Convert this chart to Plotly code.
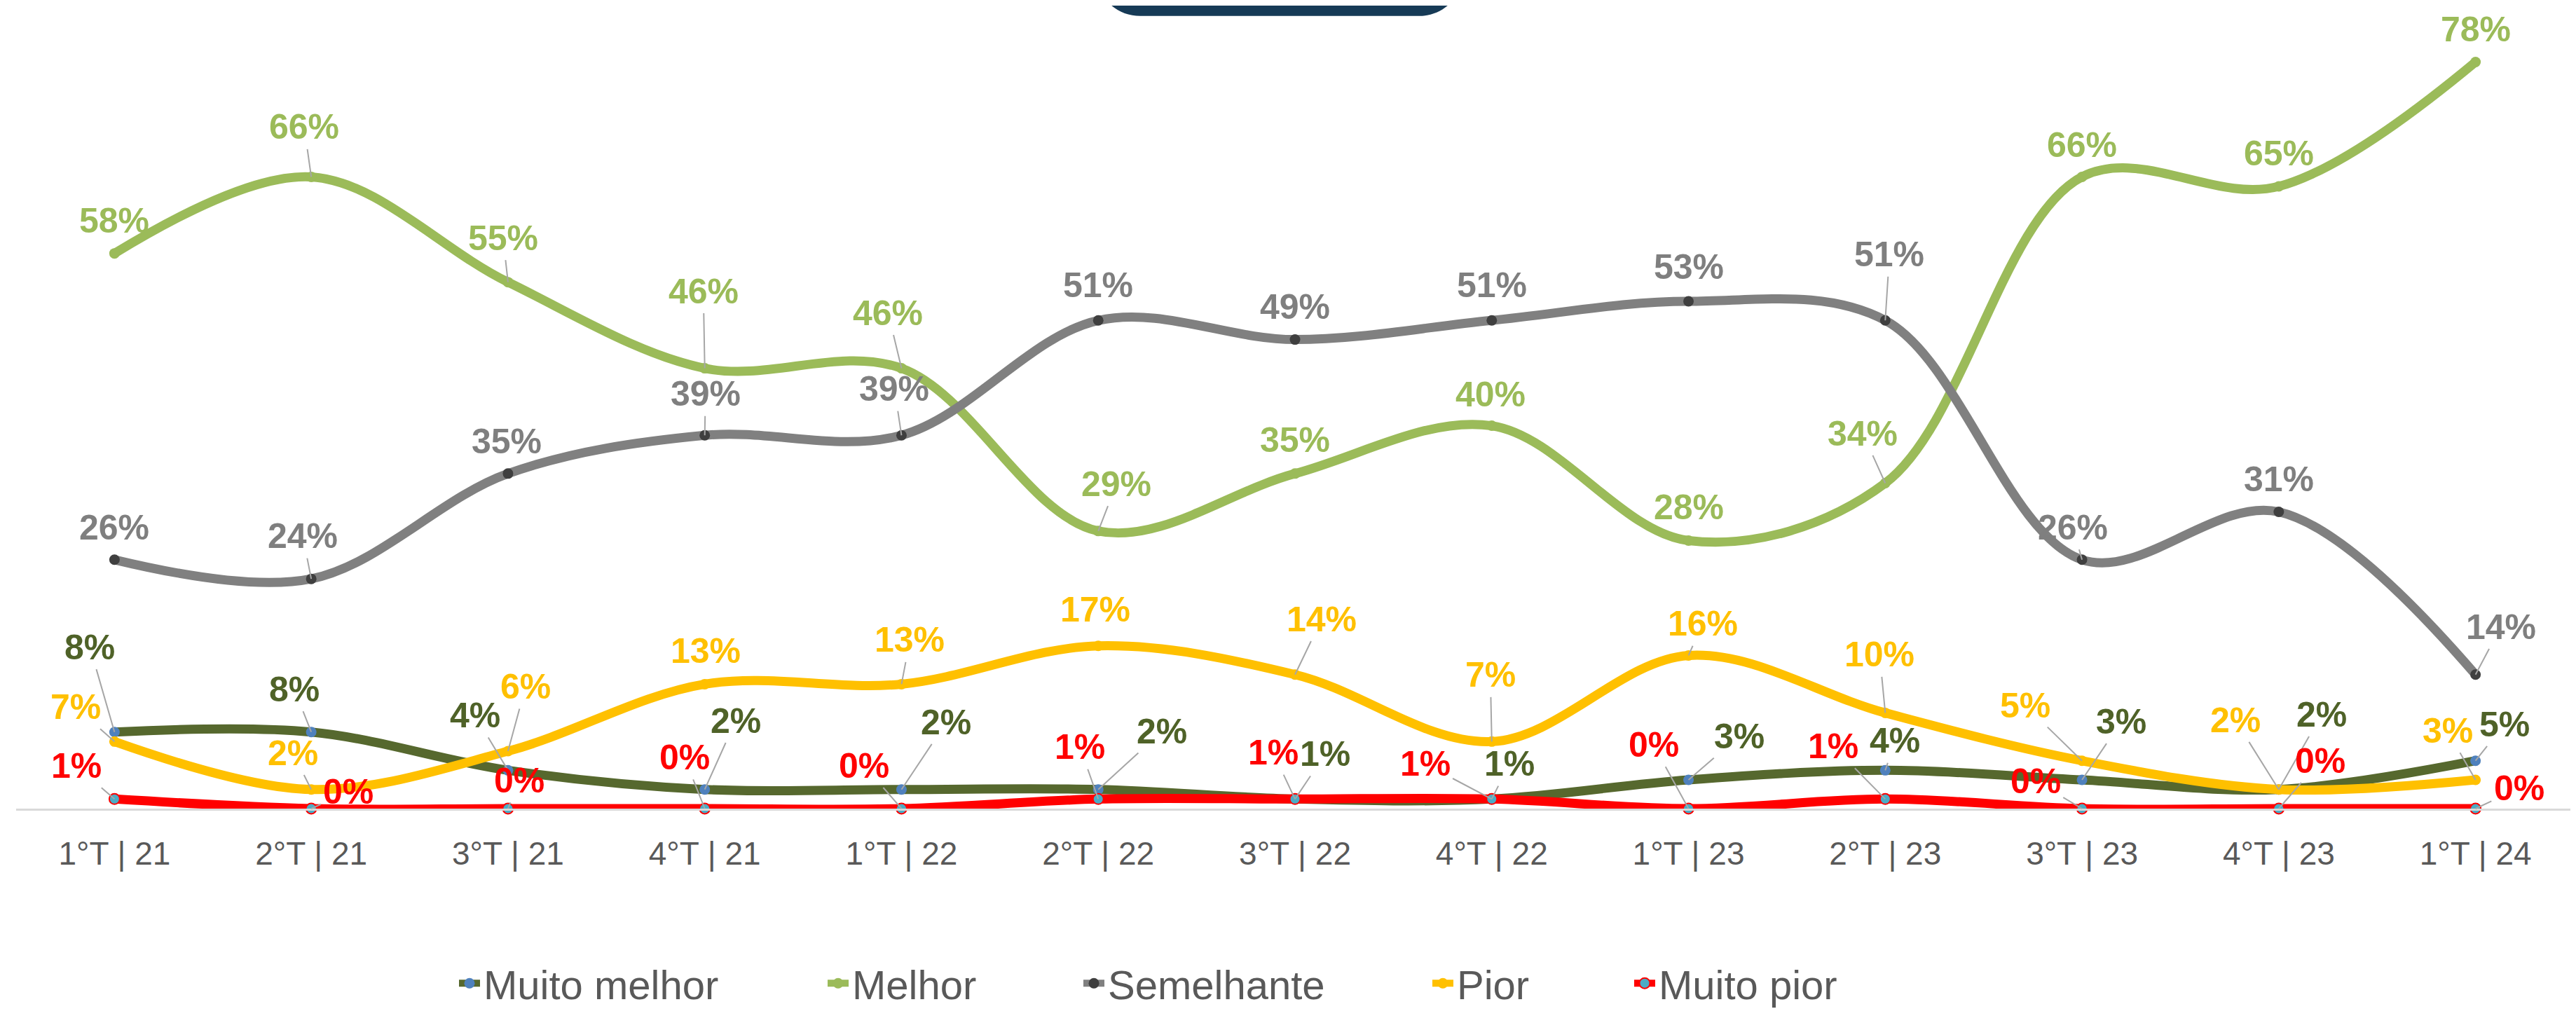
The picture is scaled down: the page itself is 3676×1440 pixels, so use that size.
import plotly.graph_objects as go

categories = ["1°T | 21", "2°T | 21", "3°T | 21", "4°T | 21",
              "1°T | 22", "2°T | 22", "3°T | 22", "4°T | 22",
              "1°T | 23", "2°T | 23", "3°T | 23", "4°T | 23", "1°T | 24"]

muito_melhor = [8, 8, 4, 2, 2, 2, 1, 1, 3, 4, 3, 2, 5]
melhor = [58, 66, 55, 46, 46, 29, 35, 40, 28, 34, 66, 65, 78]
semelhante = [26, 24, 35, 39, 39, 51, 49, 51, 53, 51, 26, 31, 14]
pior = [7, 2, 6, 13, 13, 17, 14, 7, 16, 10, 5, 2, 3]
muito_pior = [1, 0, 0, 0, 0, 1, 1, 1, 0, 1, 0, 0, 0]

series_names = ["Muito melhor", "Melhor", "Semelhante", "Pior", "Muito pior"]

# label offsets (pixels) relative to each point: (dx, dy), dy positive downward
off_mm = [(-35, -121), (-24, -61), (-47, -78), (44, -98), (64, -96), (91, -83), (43, -64),
          (25, -50), (72, -62), (14, -42), (56, -83), (61, -107), (41, -52)]
off_m = [(0, -47), (-10, -71), (-7, -63), (-2, -110), (-19, -79), (26, -67), (0, -48),
         (-2, -45), (0, -48), (-32, -71), (0, -45), (0, -47), (0, -46)]
off_s = [(0, -46), (-12, -61), (-2, -46), (1, -59), (-10, -66), (0, -50), (0, -47),
         (0, -50), (0, -49), (6, -94), (-13, -46), (0, -47), (36, -68)]
off_p = [(-55, -49), (-26, -52), (25, -92), (1, -47), (12, -63), (-4, -52), (38, -79),
         (-2, -95), (20, -45), (-8, -83), (-81, -79), (-62, -99), (-40, -70)]
off_mp = [(-54, -47), (53, -24), (16, -40), (-29, -73), (-53, -61), (-26, -74), (-31, -66),
          (-95, -50), (-50, -91), (-74, -75), (-66, -39), (59, -68), (62, -29)]

W, H = 3676, 1440
PL, PR = 15, 3665      # plot area x pixels
PB = 1156              # y pixel of 0%
PX_PER = 13.78

FONT = "Liberation Sans, Arial, sans-serif"

styles = [
    dict(line="#56682E", marker=dict(color="#4F81BD", size=15), label="#4F6228", off=off_mm, data=muito_melhor),
    dict(line="#9BBB59", marker=dict(color="#9BBB59", size=15), label="#9BBB59", off=off_m, data=melhor),
    dict(line="#808080", marker=dict(color="#3F3F3F", size=15), label="#7F7F7F", off=off_s, data=semelhante),
    dict(line="#FFC000", marker=dict(color="#FFC000", size=15), label="#FFC000", off=off_p, data=pior),
    dict(line="#FF0000", marker=dict(color="#4BACC6", size=15, line=dict(color="#FF0000", width=2)),
         label="#FF0000", off=off_mp, data=muito_pior),
]

fig = go.Figure()
legend_keys = ["legend", "legend2", "legend3", "legend4", "legend5"]
for name, st, lk in zip(series_names, styles, legend_keys):
    fig.add_trace(go.Scatter(
        x=categories, y=st["data"], name=name, mode="lines+markers",
        line=dict(color=st["line"], width=13, shape="spline", smoothing=1.0),
        marker=st["marker"], cliponaxis=False, legend=lk,
    ))

annotations = []
for st in styles:
    for cat, v, (dx, dy) in zip(categories, st["data"], st["off"]):
        txt = f"<b>{v}%</b>"
        leader = abs(dx) > 10 or abs(dy) > 58
        if leader:
            annotations.append(dict(
                x=cat, y=v, xref="x", yref="y", text=txt, showarrow=True,
                ax=dx, ay=dy, arrowhead=0, arrowwidth=2, arrowcolor="#A6A6A6",
                standoff=0, startstandoff=2,
                font=dict(family=FONT, size=50, color=st["label"]),
            ))
        else:
            annotations.append(dict(
                x=cat, y=v, xref="x", yref="y", text=txt, showarrow=False,
                xshift=dx, yshift=-dy,
                font=dict(family=FONT, size=50, color=st["label"]),
            ))


def xp(px):
    return (px - PL) / (PR - PL)


def yp(py):
    return (PB - py) / PB


# title box (cut off at top)
L, R, B, TOP, r = 1556, 2080, 15, -120, 63
k = 0.552 * r
path = (
    f"M {xp(L)},{yp(TOP)} L {xp(L)},{yp(B - r)} "
    f"C {xp(L)},{yp(B - r + k)} {xp(L + r - k)},{yp(B)} {xp(L + r)},{yp(B)} "
    f"L {xp(R - r)},{yp(B)} "
    f"C {xp(R - r + k)},{yp(B)} {xp(R)},{yp(B - r + k)} {xp(R)},{yp(B - r)} "
    f"L {xp(R)},{yp(TOP)} Z"
)
shapes = [dict(type="path", xref="paper", yref="paper", path=path,
               fillcolor="#163A56", line=dict(width=0), layer="above")]

legend_text_starts = [682, 1208, 1573, 2071, 2359]
legend_y = yp(1408)
legend_cfg = {}
for lk, ts in zip(legend_keys, legend_text_starts):
    legend_cfg[lk] = dict(
        orientation="h", x=xp(ts - 40), y=legend_y, xanchor="left", yanchor="middle",
        font=dict(family=FONT, size=58, color="#595959"), bgcolor="rgba(0,0,0,0)",
        borderwidth=0,
    )

fig.update_layout(
    width=W, height=H,
    margin=dict(l=PL, r=W - PR, t=0, b=H - PB, pad=0),
    paper_bgcolor="white", plot_bgcolor="white",
    showlegend=True,
    annotations=annotations,
    shapes=shapes,
    xaxis=dict(
        type="category", range=[-0.5, len(categories) - 0.5],
        showline=True, linecolor="#D9D9D9", linewidth=3,
        showgrid=False, zeroline=False, ticks="",
        tickfont=dict(family=FONT, size=46, color="#595959"),
        ticklabelstandoff=22,
    ),
    yaxis=dict(range=[0, PB / PX_PER], visible=False, showgrid=False, zeroline=False),
    **legend_cfg,
)

fig.write_html("out.html")
